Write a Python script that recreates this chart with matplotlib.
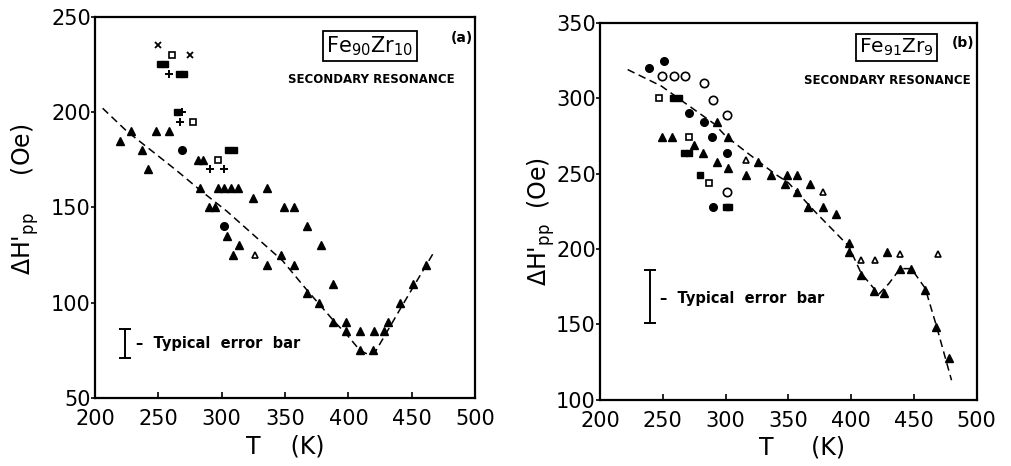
import matplotlib
matplotlib.use("Agg")
import matplotlib.pyplot as plt

# ---- (a) Fe90Zr10 ----
a_tri_T = [220, 228, 237, 242, 248, 258, 281, 285, 283, 290, 295, 297, 302, 307, 313,
           325, 336, 349, 357, 367, 378, 388, 367, 377, 388, 398, 409, 420,
           409, 419, 428, 431, 441, 451, 461, 304, 309, 314, 336, 347, 357, 398]
a_tri_H = [185, 190, 180, 170, 190, 190, 175, 175, 160, 150, 150, 160, 160, 160, 160,
           155, 160, 150, 150, 140, 130, 110, 105, 100, 90, 90, 85, 85,
           75, 75, 85, 90, 100, 110, 120, 135, 125, 130, 120, 125, 120, 85]
a_otri_T = [326]
a_otri_H = [125]
a_sq_T = [251, 255, 266, 270, 265, 305, 310]
a_sq_H = [225, 225, 220, 220, 200, 180, 180]
a_osq_T = [261, 277, 297]
a_osq_H = [230, 195, 175]
a_plus_T = [258, 269, 267, 291, 302]
a_plus_H = [220, 200, 195, 170, 170]
a_x_T = [250, 275]
a_x_H = [235, 230]
a_circ_T = [269, 302]
a_circ_H = [180, 140]
a_fit_T = [206, 225, 246, 265, 283, 304, 326, 348, 368, 389, 399, 409, 415, 421, 442, 467]
a_fit_H = [202, 190, 179, 169, 159, 148, 135, 122, 106, 90, 83, 75, 73, 74, 98, 126]
a_err_T = 224
a_err_H = (71, 86)

# ---- (b) Fe91Zr9 ----
b_tri_T = [249, 257, 275, 282, 293, 293, 302, 302, 326, 316, 336, 347, 349, 357, 357,
           367, 366, 378, 388, 398, 398, 408, 418, 426, 439, 448, 459, 468, 478]
b_tri_H = [274, 274, 269, 264, 258, 284, 254, 274, 258, 249, 249, 243, 249, 249, 238,
           243, 228, 228, 223, 204, 198, 183, 172, 171, 187, 187, 173, 148, 128]
b_otri_T = [316, 378, 408, 419, 439, 469]
b_otri_H = [259, 238, 193, 193, 197, 197]
b_tri2_T = [429]
b_tri2_H = [198]
b_circ_T = [239, 251, 271, 283, 289, 301, 290]
b_circ_H = [320, 325, 290, 284, 274, 264, 228]
b_ocirc_T = [249, 259, 268, 283, 290, 301, 301]
b_ocirc_H = [315, 315, 315, 310, 299, 289, 238]
b_sq_T = [258, 263, 267, 271, 280, 300, 303]
b_sq_H = [300, 300, 264, 264, 249, 228, 228]
b_osq_T = [247, 271, 287]
b_osq_H = [300, 274, 244]
b_fit_T = [222, 249, 264, 291, 300, 317, 339, 350, 371, 398, 408, 422, 430, 439, 448,
           459, 468, 480]
b_fit_H = [319, 308, 299, 283, 275, 264, 250, 244, 225, 202, 184, 170, 177, 187, 187,
           174, 149, 113]
b_err_T = 240
b_err_H = (151, 186)

plt.rcParams["font.family"] = "DejaVu Sans"

fig = plt.figure(figsize=(10.11, 4.66), dpi=100)
ax1 = fig.add_axes([0.094, 0.146, 0.376, 0.818])
ax2 = fig.add_axes([0.5935, 0.142, 0.3725, 0.809])

k = dict(color="black", linestyle="none")


def frame(ax, ylim, yticks, xlab, ylab, xlab_x, ylab_xy):
    ax.set_xlim(200, 500)
    ax.set_ylim(*ylim)
    ax.set_xticks([200, 250, 300, 350, 400, 450, 500])
    ax.set_yticks(yticks)
    ax.tick_params(axis="x", direction="in", length=4, width=1.2, labelsize=15, pad=8)
    ax.tick_params(axis="y", direction="out", length=3, width=1.2, labelsize=15, pad=0)
    for s in ax.spines.values():
        s.set_linewidth(1.6)
    ax.set_xlabel(xlab, fontsize=17)
    ax.xaxis.set_label_coords(xlab_x, -0.095)
    ax.set_ylabel(ylab, fontsize=17)
    ax.yaxis.set_label_coords(*ylab_xy)


# panel (a)
frame(ax1, (50, 250), [50, 100, 150, 200, 250], "T    (K)",
      r"$\Delta$H'$_{\rm pp}$     (Oe)", 0.5, (-0.141, 0.52))
ax1.plot(a_fit_T, a_fit_H, "--", color="black", lw=1.1, dashes=(5, 3))
ax1.plot(a_tri_T, a_tri_H, marker="^", ms=6, **k)
ax1.plot(a_otri_T, a_otri_H, marker="^", ms=5, mfc="white", mew=1.2, **k)
ax1.plot(a_sq_T, a_sq_H, marker="s", ms=5, **k)
ax1.plot(a_osq_T, a_osq_H, marker="s", ms=4.5, mfc="white", mew=1.2, **k)
ax1.plot(a_plus_T, a_plus_H, marker="+", ms=6, mew=1.4, **k)
ax1.plot(a_x_T, a_x_H, marker="x", ms=4, mew=1.3, **k)
ax1.plot(a_circ_T, a_circ_H, marker="o", ms=5.5, **k)
ax1.errorbar([a_err_T], [sum(a_err_H) / 2], yerr=[(a_err_H[1] - a_err_H[0]) / 2],
             fmt="none", ecolor="black", elinewidth=1.4, capsize=4, capthick=1.4)
ax1.text(a_err_T + 8, sum(a_err_H) / 2, "–  Typical  error  bar", fontsize=10.5,
         fontweight="bold", va="center", ha="left")
ax1.text(417, 234.5, r"Fe$_{90}$Zr$_{10}$", fontsize=15, ha="center", va="center",
         bbox=dict(boxstyle="square,pad=0.15", fc="white", ec="black", lw=1.3))
ax1.text(498, 239, "(a)", fontsize=10, fontweight="bold", ha="right", va="center")
ax1.text(418, 217, "SECONDARY RESONANCE", fontsize=8.5, fontweight="bold",
         ha="center", va="center")

# panel (b)
frame(ax2, (100, 350), [100, 150, 200, 250, 300, 350], "T     (K)",
      r"$\Delta$H'$_{\rm pp}$  (Oe)", 0.537, (-0.115, 0.472))
ax2.plot(b_fit_T, b_fit_H, "--", color="black", lw=1.1, dashes=(5, 3))
ax2.plot(b_tri_T, b_tri_H, marker="^", ms=6, **k)
ax2.plot(b_tri2_T, b_tri2_H, marker="^", ms=5.5, **k)
ax2.plot(b_otri_T, b_otri_H, marker="^", ms=5, mfc="white", mew=1.2, **k)
ax2.plot(b_circ_T, b_circ_H, marker="o", ms=5.5, **k)
ax2.plot(b_ocirc_T, b_ocirc_H, marker="o", ms=6, mfc="white", mew=1.2, **k)
ax2.plot(b_sq_T, b_sq_H, marker="s", ms=5, **k)
ax2.plot(b_osq_T, b_osq_H, marker="s", ms=4.5, mfc="white", mew=1.2, **k)
ax2.errorbar([b_err_T], [sum(b_err_H) / 2], yerr=[(b_err_H[1] - b_err_H[0]) / 2],
             fmt="none", ecolor="black", elinewidth=1.4, capsize=4, capthick=1.4)
ax2.text(b_err_T + 8, 167, "–  Typical  error  bar", fontsize=10.5,
         fontweight="bold", va="center", ha="left")
ax2.text(436, 333.5, r"Fe$_{91}$Zr$_{9}$", fontsize=14.5, ha="center", va="center",
         bbox=dict(boxstyle="square,pad=0.15", fc="white", ec="black", lw=1.3))
ax2.text(498, 336.5, "(b)", fontsize=10, fontweight="bold", ha="right", va="center")
ax2.text(429, 312, "SECONDARY RESONANCE", fontsize=8.5, fontweight="bold",
         ha="center", va="center")

fig.savefig("out.png", dpi=100)
